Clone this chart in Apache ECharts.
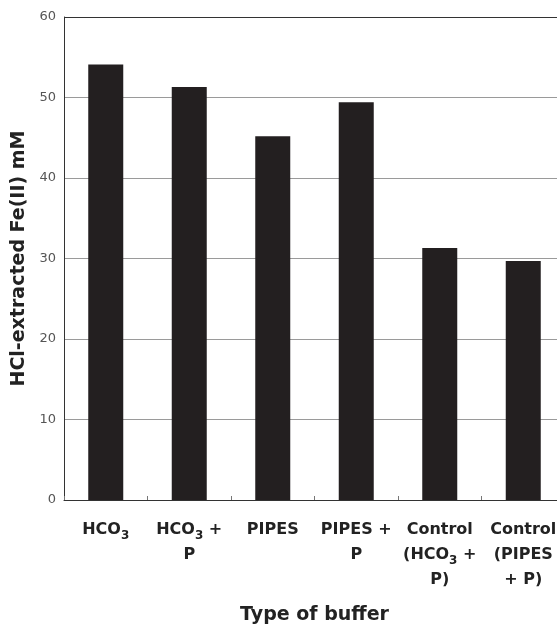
<!DOCTYPE html>
<html>
<head>
<meta charset="utf-8">
<script src="https://cdn.jsdelivr.net/npm/echarts@6/dist/echarts.min.js"></script>
<style>
html,body{margin:0;padding:0;background:#fff;overflow:hidden;width:557px;height:626px;}
#chart{width:565px;height:626px;}
</style>
</head>
<body>
<div id="chart"></div>
<script>
// Category labels in rich-text form ({s|..} = subscript)
const categories = [
  '{b|HCO}{s|3}',
  '{b|HCO}{s|3}{b| +}\n{b|P}',
  '{b|PIPES}',
  '{b|PIPES +}\n{b|P}',
  '{b|Control}\n{b|(HCO}{s|3}{b| +}\n{b|P)}',
  '{b|Control}\n{b|(PIPES}\n{b|+ P)}'
];
const feValues = [54.1, 51.3, 45.2, 49.4, 31.3, 29.7];
const yTicks = [0, 10, 20, 30, 40, 50, 60];

const chart = echarts.init(document.getElementById('chart'), null, {renderer: 'canvas'});
const gridColors = yTicks.map((v, i) => i === yTicks.length - 1 ? '#333' : '#9a9a9a');

chart.setOption({
  backgroundColor: '#fff',
  animation: false,
  grid: {left: 64, right: 0, top: 17, bottom: 126, containLabel: false, outerBoundsMode: 'none'},
  xAxis: {
    type: 'category',
    data: categories,
    name: 'Type of buffer',
    nameLocation: 'middle',
    nameGap: 106,
    nameTextStyle: {fontFamily: 'DejaVu Sans', fontWeight: 'bold', fontSize: 19, color: '#222'},
    axisLine: {lineStyle: {color: '#333', width: 1}},
    axisTick: {show: true, inside: true, length: 4, lineStyle: {color: '#777'}},
    axisLabel: {
      interval: 0,
      margin: 17,
      lineHeight: 25,
      rich: {
        b: {fontFamily: 'DejaVu Sans', fontWeight: 'bold', fontSize: 16, color: '#222', lineHeight: 25},
        s: {fontFamily: 'DejaVu Sans', fontWeight: 'bold', fontSize: 12, color: '#222', lineHeight: 25, padding: [12, 0, 0, 0]}
      }
    }
  },
  yAxis: {
    type: 'value',
    min: 0,
    max: 60,
    interval: 10,
    name: 'HCl-extracted Fe(II) mM',
    nameLocation: 'middle',
    nameGap: 33,
    nameTextStyle: {fontFamily: 'DejaVu Sans', fontWeight: 'bold', fontSize: 19, color: '#222'},
    axisLine: {show: true, lineStyle: {color: '#333', width: 1}},
    axisTick: {show: false},
    axisLabel: {margin: 8, fontFamily: 'DejaVu Sans', fontSize: 13, color: '#555'},
    splitLine: {show: true, lineStyle: {color: gridColors, width: 1}}
  },
  series: [{
    type: 'bar',
    data: feValues,
    barWidth: 35,
    itemStyle: {color: '#231f20'}
  }]
});
</script>
</body>
</html>
